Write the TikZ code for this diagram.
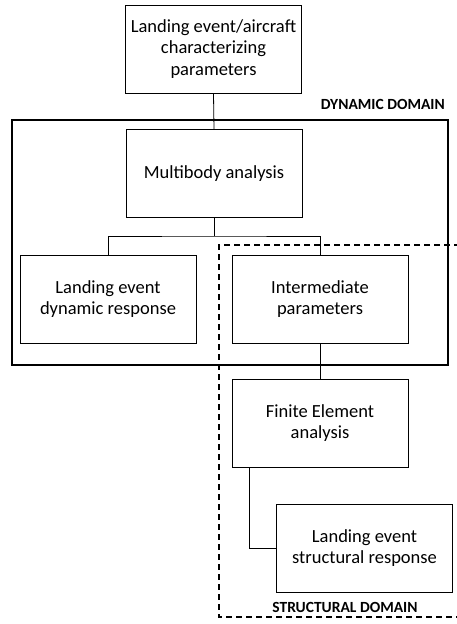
\documentclass[tikz,border=0pt]{standalone}
\usepackage{fontspec}
\setmainfont{Carlito}
\begin{document}
\begin{tikzpicture}[x=1pt,y=-1pt,
  box/.style={draw,line width=0.8pt,minimum width=176pt,minimum height=88pt,inner sep=0pt,
    align=center,font=\fontsize{18.5}{21.5}\selectfont},
  domlabel/.style={font=\fontsize{15.5}{17}\selectfont\bfseries,inner sep=0pt},
  conn/.style={line width=0.8pt}]
\useasboundingbox (0,0) rectangle (457,624);
% domains
\draw[line width=1.6pt] (12,120) rectangle (448,365);
\draw[line width=1.5pt,dash pattern=on 6pt off 4pt] (460,245) -- (219,245) -- (219,617) -- (460,617);
\node[domlabel,anchor=east] (dyn) at (445,104) {DYNAMIC DOMAIN};
\node[domlabel] (str) at (345,607) {STRUCTURAL DOMAIN};
% boxes
\node[box,fill=white] (top) at (213.5,49) {Landing event/aircraft\\characterizing\\parameters};
\node[box,fill=white] (mb) at (214,173.5) {Multibody analysis};
\node[box,fill=white] (ldr) at (108,299) {Landing event\\dynamic response};
\node[box,fill=white] (ip) at (320,299) {Intermediate\\parameters};
\node[box,fill=white] (fe) at (320,423) {Finite Element\\analysis};
\node[box,fill=white] (sr) at (364.5,548) {Landing event\\structural response};
% connectors
\coordinate (j) at (214,236);
\draw[conn] (top.south) -- (mb.north);
\draw[conn] (mb.south) -- (j);
\draw[conn] (ldr.north) |- (j) -| (ip.north);
\draw[conn] (ip.south) -- (fe.north);
\draw[conn] ([xshift=18pt]fe.south west) |- (sr.west);
\end{tikzpicture}
\end{document}
